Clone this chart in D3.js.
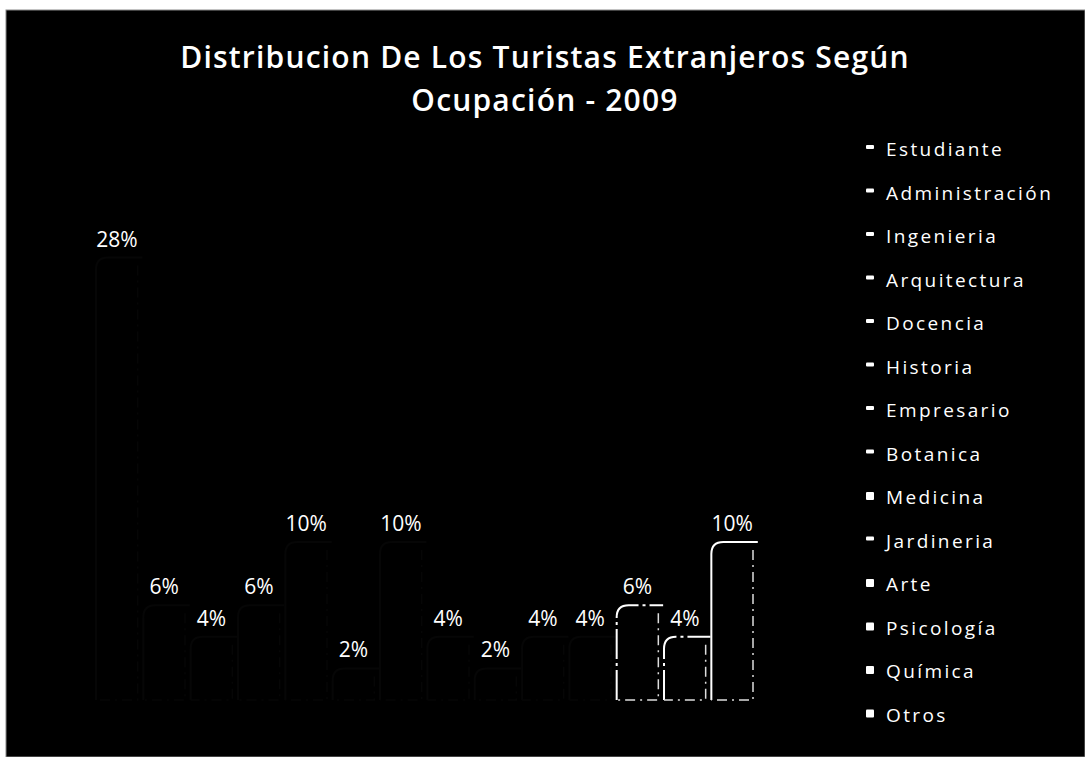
<!DOCTYPE html>
<html>
<head>
<meta charset="utf-8">
<script src="https://cdn.jsdelivr.net/npm/d3@7"></script>
<style>
  body { margin: 0; background: #fff; }
  svg text { font-family: 'Open Sans', sans-serif; fill: #fff; }
</style>
</head>
<body>
<svg width="1085" height="757"></svg>
<script>
const svg = d3.select('svg');
const width = +svg.attr('width');
const height = +svg.attr('height');

const categories = ['Estudiante', 'Administración', 'Ingenieria', 'Arquitectura', 'Docencia',
    'Historia', 'Empresario', 'Botanica', 'Medicina', 'Jardineria', 'Arte', 'Psicología',
    'Química', 'Otros'];
const values = [28, 6, 4, 6, 10, 2, 10, 4, 2, 4, 4, 6, 4, 10];
const squareMarkers = ['Medicina', 'Arte', 'Psicología', 'Química', 'Otros'];
const titleLines = ['Distribucion De Los Turistas Extranjeros Según', 'Ocupación - 2009'];

// fondo negro
svg.append('rect')
    .attr('x', 6).attr('y', 10)
    .attr('width', width - 6).attr('height', height - 10)
    .attr('fill', '#000')
    .attr('stroke', '#888').attr('stroke-width', 1);

const x = d3.scaleBand()
    .domain(categories)
    .range([96, 753])
    .paddingInner(0.12);

const y = d3.scaleLinear()
    .domain([0, 10])
    .range([700, 542]);

const depth = 12;
const r = 12;

// cara frontal: borde izquierdo + esquina redondeada + techo
const frontPath = d => {
    const x0 = x(d.cat), x1 = x0 + x.bandwidth();
    const yt = y(d.val), yb = y(0);
    const rr = Math.min(r, (yb - yt) / 2);
    return `M${x0},${yb} L${x0},${yt + rr} Q${x0},${yt} ${x0 + rr},${yt} L${x1 + depth * 0.4},${yt}`;
};
// lado derecho + base
const backPath = d => {
    const x0 = x(d.cat), x1 = x0 + x.bandwidth();
    const yt = y(d.val), yb = y(0);
    return `M${x1},${yt + 8} L${x1},${yb} L${x0},${yb}`;
};

const data = categories.map((c, i) => ({ cat: c, val: values[i], i }));

//barras
const g = svg.append('g');
g.selectAll('rect.bar').data(data).enter()
    .append('rect')
    .attr('class', 'bar')
    .attr('x', d => x(d.cat))
    .attr('y', d => y(d.val))
    .attr('width', x.bandwidth())
    .attr('height', d => y(0) - y(d.val))
    .attr('fill', '#000');

g.selectAll('path.front').data(data).enter()
    .append('path')
    .attr('class', 'front')
    .attr('d', frontPath)
    .attr('fill', 'none')
    .attr('stroke', d => d.i >= 11 ? '#fff' : '#060606')
    .attr('stroke-width', 2)
    .attr('stroke-dasharray', d => d.i >= 11 && d.i < 13 ? '30,4,3,4' : null);

g.selectAll('path.back').data(data).enter()
    .append('path')
    .attr('class', 'back')
    .attr('d', backPath)
    .attr('fill', 'none')
    .attr('stroke', d => d.i >= 11 ? '#ddd' : '#060606')
    .attr('stroke-width', 1.5)
    .attr('stroke-dasharray', '10,5,2,5');

//etiquetas
g.selectAll('text.lbl').data(data).enter()
    .append('text')
    .attr('class', 'lbl')
    .attr('x', d => x(d.cat) + x.bandwidth() / 2)
    .attr('y', d => y(d.val) - 11)
    .attr('text-anchor', 'middle')
    .attr('font-size', 21)
    .text(d => d.val + '%');

//titulo
svg.selectAll('text.title').data(titleLines).enter()
    .append('text')
    .attr('class', 'title')
    .attr('x', 545)
    .attr('y', (d, i) => 68 + i * 43)
    .attr('text-anchor', 'middle')
    .attr('font-size', 30)
    .attr('font-weight', 600)
    .attr('letter-spacing', 1.2)
    .text(d => d);

//leyenda
const legend = svg.append('g').attr('transform', 'translate(866,149)');
const item = legend.selectAll('g').data(categories).enter()
    .append('g')
    .attr('transform', (d, i) => `translate(0,${i * 43.5})`);

item.append('rect')
    .attr('x', 0)
    .attr('y', d => squareMarkers.includes(d) ? -5 : -4)
    .attr('width', 8)
    .attr('height', d => squareMarkers.includes(d) ? 8 : 4)
    .attr('rx', 1)
    .attr('fill', '#fff');

item.append('text')
    .attr('x', 20)
    .attr('y', 7)
    .attr('font-size', 19)
    .attr('letter-spacing', 2.4)
    .text(d => d);
</script>
</body>
</html>
